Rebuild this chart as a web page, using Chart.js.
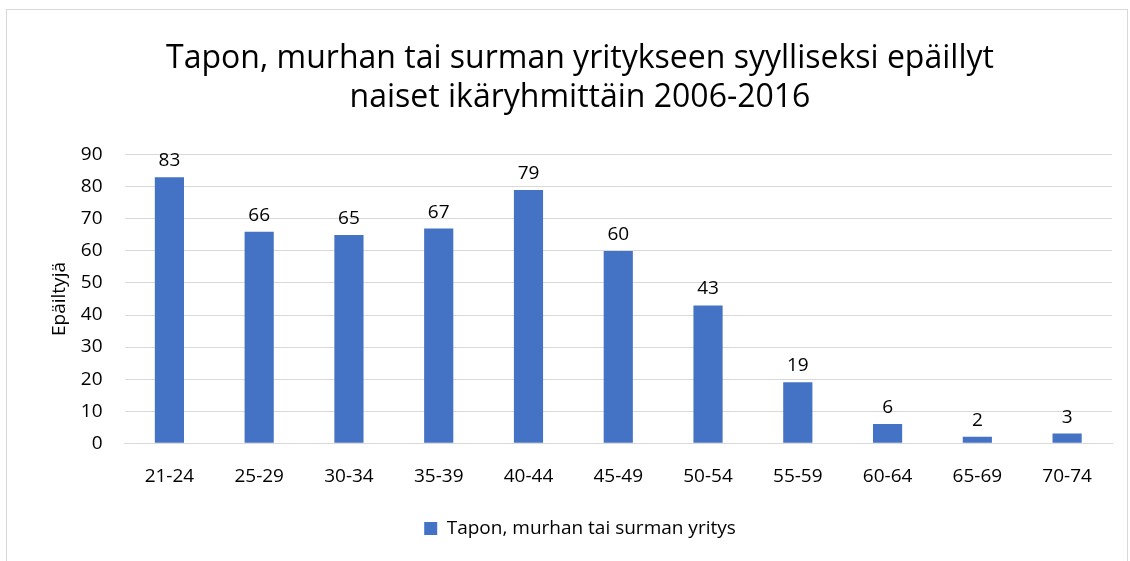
<!DOCTYPE html>
<html>
<head>
<meta charset="utf-8">
<script src="https://cdn.jsdelivr.net/npm/chart.js@4"></script>
<style>
    html, body { margin: 0; padding: 0; background: #fff; }
    #frame {
        position: absolute; left: 6px; top: 9px; width: 1122px; height: 560px;
        border: 1px solid #d9d9d9; box-sizing: border-box;
    }
    #wrap { position: absolute; left: 0; top: 0; width: 1130px; height: 561px; }
</style>
</head>
<body>
<div id="frame"></div>
<div id="wrap"><canvas id="chart"></canvas></div>
<script>
// Age groups and counts
const AGE_GROUPS = ['21-24', '25-29', '30-34', '35-39', '40-44', '45-49', '50-54', '55-59', '60-64', '65-69', '70-74'];
const SUSPECTS = [83, 66, 65, 67, 79, 60, 43, 19, 6, 2, 3];
const SERIES_LABEL = 'Tapon, murhan tai surman yritys';
const TITLE_LINES = ['Tapon, murhan tai surman yritykseen syylliseksi epäillyt', 'naiset ikäryhmittäin 2006-2016'];

const FONT = "'Open Sans', 'Noto Sans', sans-serif";
Chart.defaults.font.family = FONT;
Chart.defaults.color = '#000';

// Simple value labels above bars
const valueLabels = {
    id: 'valueLabels',
    afterDatasetsDraw(chart) {
        const ctx = chart.ctx;
        const meta = chart.getDatasetMeta(0);
        ctx.save();
        ctx.font = `19px ${FONT}`;
        ctx.fillStyle = '#000';
        ctx.textAlign = 'center';
        ctx.textBaseline = 'alphabetic';
        meta.data.forEach((bar, i) => {
            ctx.fillText(String(SUSPECTS[i]), bar.x, bar.y - 11);
        });
        ctx.restore();
    }
};

new Chart(document.getElementById('chart'), {
    type: 'bar',
    data: {
        labels: AGE_GROUPS,
        datasets: [{
            label: SERIES_LABEL,
            data: SUSPECTS,
            backgroundColor: '#4472c4',
            borderWidth: 0,
            barPercentage: 0.65,
            categoryPercentage: 0.5
        }]
    },
    options: {
        responsive: true,
        maintainAspectRatio: false,
        animation: false,
        layout: { padding: { left: 48, right: 18, top: 40, bottom: 13 } },
        plugins: {
            title: {
                display: true,
                text: TITLE_LINES,
                font: { size: 32, weight: 'normal' },
                color: '#000',
                padding: { top: 0, bottom: 38 },
                lineHeight: 1.48
            },
            legend: {
                position: 'bottom',
                labels: {
                    boxWidth: 13,
                    boxHeight: 13,
                    font: { size: 19 },
                    padding: 17
                }
            },
            tooltip: { enabled: false }
        },
        scales: {
            x: {
                grid: { display: false },
                border: { color: '#d9d9d9', width: 1 },
                ticks: { font: { size: 19 }, padding: 14 }
            },
            y: {
                min: 0,
                max: 90,
                ticks: { stepSize: 10, font: { size: 19 }, padding: 22 },
                grid: { color: '#d9d9d9', drawTicks: false },
                border: { display: false },
                title: {
                    display: true,
                    text: 'Epäiltyjä',
                    font: { size: 19 },
                    padding: { top: 0, bottom: -12 }
                }
            }
        }
    },
    plugins: [valueLabels]
});
</script>
</body>
</html>
